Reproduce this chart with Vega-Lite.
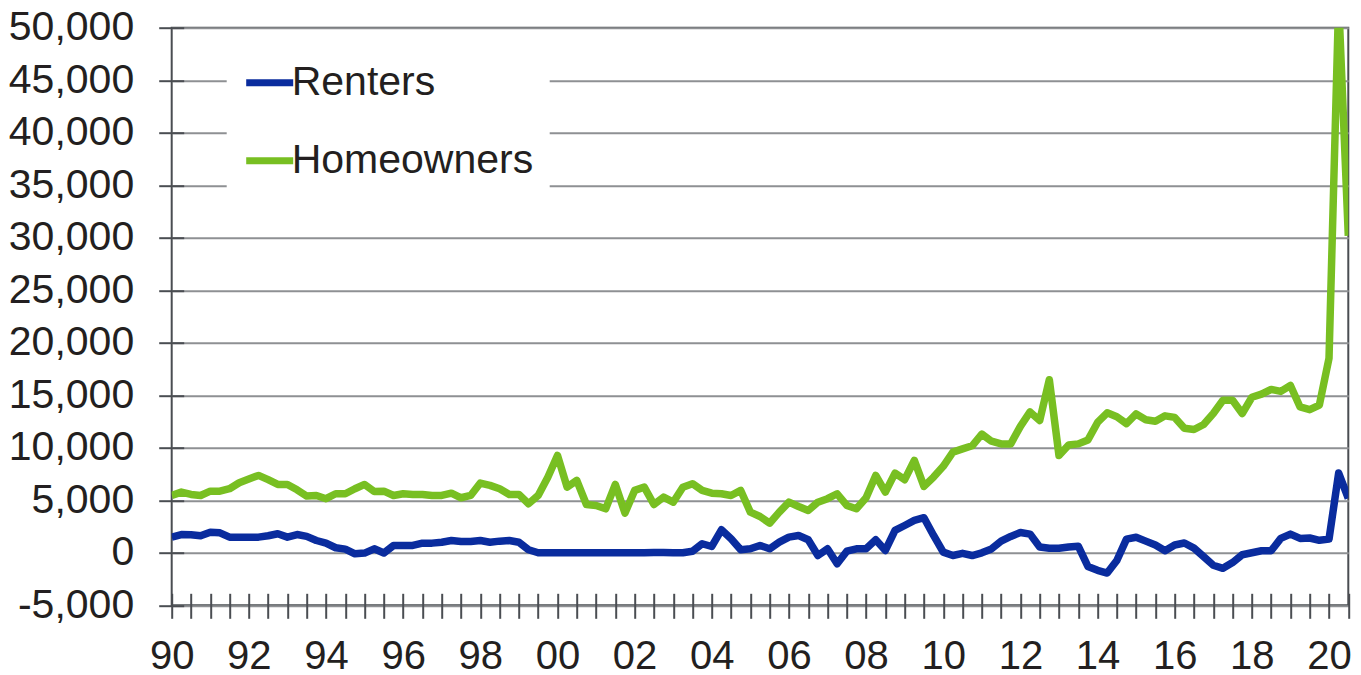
{
  "$schema": "https://vega.github.io/schema/vega-lite/v6.json",
  "width": 1176.6,
  "height": 577.6,
  "autosize": {"type": "none"},
  "padding": {"left": 171.7, "top": 27.7, "right": 12.7, "bottom": 69.7},
  "background": "white",
  "config": {
    "view": {"stroke": "#4a4d52", "strokeWidth": 2},
    "font": "Liberation Sans"
  },
  "data": {"values": [
    {"t":1990.00,"Renters":1490,"Homeowners":5460},
    {"t":1990.25,"Renters":1740,"Homeowners":5780},
    {"t":1990.50,"Renters":1720,"Homeowners":5560},
    {"t":1990.75,"Renters":1620,"Homeowners":5460},
    {"t":1991.00,"Renters":1960,"Homeowners":5870},
    {"t":1991.25,"Renters":1900,"Homeowners":5870},
    {"t":1991.50,"Renters":1490,"Homeowners":6100},
    {"t":1991.75,"Renters":1490,"Homeowners":6670},
    {"t":1992.00,"Renters":1490,"Homeowners":7020},
    {"t":1992.25,"Renters":1490,"Homeowners":7370},
    {"t":1992.50,"Renters":1620,"Homeowners":6960},
    {"t":1992.75,"Renters":1810,"Homeowners":6510},
    {"t":1993.00,"Renters":1490,"Homeowners":6510},
    {"t":1993.25,"Renters":1740,"Homeowners":6000},
    {"t":1993.50,"Renters":1560,"Homeowners":5400},
    {"t":1993.75,"Renters":1170,"Homeowners":5460},
    {"t":1994.00,"Renters":920,"Homeowners":5150},
    {"t":1994.25,"Renters":480,"Homeowners":5620},
    {"t":1994.50,"Renters":350,"Homeowners":5620},
    {"t":1994.75,"Renters":-100,"Homeowners":6100},
    {"t":1995.00,"Renters":-30,"Homeowners":6510},
    {"t":1995.25,"Renters":380,"Homeowners":5840},
    {"t":1995.50,"Renters":-20,"Homeowners":5870},
    {"t":1995.75,"Renters":700,"Homeowners":5460},
    {"t":1996.00,"Renters":700,"Homeowners":5620},
    {"t":1996.25,"Renters":700,"Homeowners":5560},
    {"t":1996.50,"Renters":920,"Homeowners":5560},
    {"t":1996.75,"Renters":920,"Homeowners":5460},
    {"t":1997.00,"Renters":1010,"Homeowners":5460},
    {"t":1997.25,"Renters":1170,"Homeowners":5680},
    {"t":1997.50,"Renters":1080,"Homeowners":5240},
    {"t":1997.75,"Renters":1080,"Homeowners":5460},
    {"t":1998.00,"Renters":1170,"Homeowners":6640},
    {"t":1998.25,"Renters":1010,"Homeowners":6420},
    {"t":1998.50,"Renters":1110,"Homeowners":6100},
    {"t":1998.75,"Renters":1170,"Homeowners":5560},
    {"t":1999.00,"Renters":1010,"Homeowners":5560},
    {"t":1999.25,"Renters":290,"Homeowners":4670},
    {"t":1999.50,"Renters":0,"Homeowners":5460},
    {"t":1999.75,"Renters":0,"Homeowners":7200},
    {"t":2000.00,"Renters":0,"Homeowners":9270},
    {"t":2000.25,"Renters":0,"Homeowners":6260},
    {"t":2000.50,"Renters":0,"Homeowners":6890},
    {"t":2000.75,"Renters":0,"Homeowners":4600},
    {"t":2001.00,"Renters":0,"Homeowners":4510},
    {"t":2001.25,"Renters":0,"Homeowners":4190},
    {"t":2001.50,"Renters":0,"Homeowners":6510},
    {"t":2001.75,"Renters":10,"Homeowners":3780},
    {"t":2002.00,"Renters":10,"Homeowners":5940},
    {"t":2002.25,"Renters":10,"Homeowners":6250},
    {"t":2002.50,"Renters":20,"Homeowners":4600},
    {"t":2002.75,"Renters":20,"Homeowners":5300},
    {"t":2003.00,"Renters":10,"Homeowners":4820},
    {"t":2003.25,"Renters":10,"Homeowners":6250},
    {"t":2003.50,"Renters":150,"Homeowners":6580},
    {"t":2003.75,"Renters":860,"Homeowners":5940},
    {"t":2004.00,"Renters":600,"Homeowners":5680},
    {"t":2004.25,"Renters":2190,"Homeowners":5620},
    {"t":2004.50,"Renters":1330,"Homeowners":5460},
    {"t":2004.75,"Renters":290,"Homeowners":5940},
    {"t":2005.00,"Renters":380,"Homeowners":3870},
    {"t":2005.25,"Renters":700,"Homeowners":3460},
    {"t":2005.50,"Renters":380,"Homeowners":2820},
    {"t":2005.75,"Renters":1010,"Homeowners":3870},
    {"t":2006.00,"Renters":1490,"Homeowners":4820},
    {"t":2006.25,"Renters":1650,"Homeowners":4410},
    {"t":2006.50,"Renters":1240,"Homeowners":4030},
    {"t":2006.75,"Renters":-260,"Homeowners":4820},
    {"t":2007.00,"Renters":380,"Homeowners":5150},
    {"t":2007.25,"Renters":-1050,"Homeowners":5620},
    {"t":2007.50,"Renters":150,"Homeowners":4510},
    {"t":2007.75,"Renters":380,"Homeowners":4190},
    {"t":2008.00,"Renters":380,"Homeowners":5240},
    {"t":2008.25,"Renters":1240,"Homeowners":7370},
    {"t":2008.50,"Renters":220,"Homeowners":5780},
    {"t":2008.75,"Renters":2130,"Homeowners":7590},
    {"t":2009.00,"Renters":2600,"Homeowners":6960},
    {"t":2009.25,"Renters":3080,"Homeowners":8800},
    {"t":2009.50,"Renters":3340,"Homeowners":6320},
    {"t":2009.75,"Renters":1650,"Homeowners":7210},
    {"t":2010.00,"Renters":60,"Homeowners":8230},
    {"t":2010.25,"Renters":-260,"Homeowners":9590},
    {"t":2010.50,"Renters":-50,"Homeowners":9900},
    {"t":2010.75,"Renters":-260,"Homeowners":10190},
    {"t":2011.00,"Renters":0,"Homeowners":11300},
    {"t":2011.25,"Renters":370,"Homeowners":10630},
    {"t":2011.50,"Renters":1110,"Homeowners":10370},
    {"t":2011.75,"Renters":1560,"Homeowners":10370},
    {"t":2012.00,"Renters":1930,"Homeowners":12040},
    {"t":2012.25,"Renters":1780,"Homeowners":13410},
    {"t":2012.50,"Renters":560,"Homeowners":12590},
    {"t":2012.75,"Renters":440,"Homeowners":16480},
    {"t":2013.00,"Renters":440,"Homeowners":9260},
    {"t":2013.25,"Renters":560,"Homeowners":10260},
    {"t":2013.50,"Renters":630,"Homeowners":10370},
    {"t":2013.75,"Renters":-1300,"Homeowners":10740},
    {"t":2014.00,"Renters":-1670,"Homeowners":12410},
    {"t":2014.25,"Renters":-1930,"Homeowners":13330},
    {"t":2014.50,"Renters":-740,"Homeowners":12960},
    {"t":2014.75,"Renters":1300,"Homeowners":12300},
    {"t":2015.00,"Renters":1480,"Homeowners":13220},
    {"t":2015.25,"Renters":1110,"Homeowners":12670},
    {"t":2015.50,"Renters":740,"Homeowners":12520},
    {"t":2015.75,"Renters":190,"Homeowners":13040},
    {"t":2016.00,"Renters":740,"Homeowners":12890},
    {"t":2016.25,"Renters":930,"Homeowners":11850},
    {"t":2016.50,"Renters":440,"Homeowners":11740},
    {"t":2016.75,"Renters":-370,"Homeowners":12220},
    {"t":2017.00,"Renters":-1190,"Homeowners":13260},
    {"t":2017.25,"Renters":-1480,"Homeowners":14520},
    {"t":2017.50,"Renters":-930,"Homeowners":14520},
    {"t":2017.75,"Renters":-190,"Homeowners":13260},
    {"t":2018.00,"Renters":0,"Homeowners":14810},
    {"t":2018.25,"Renters":190,"Homeowners":15110},
    {"t":2018.50,"Renters":190,"Homeowners":15560},
    {"t":2018.75,"Renters":1370,"Homeowners":15370},
    {"t":2019.00,"Renters":1780,"Homeowners":15930},
    {"t":2019.25,"Renters":1370,"Homeowners":13890},
    {"t":2019.50,"Renters":1410,"Homeowners":13630},
    {"t":2019.75,"Renters":1190,"Homeowners":14070},
    {"t":2020.00,"Renters":1300,"Homeowners":18520},
    {"t":2020.25,"Renters":7590,"Homeowners":52500},
    {"t":2020.50,"Renters":5190,"Homeowners":30190}
  ]},
  "transform": [{"fold": ["Renters", "Homeowners"], "as": ["series", "value"]}],
  "mark": {"type": "line", "strokeWidth": 7.5, "strokeJoin": "round", "strokeCap": "butt", "clip": true},
  "encoding": {
    "x": {
      "field": "t",
      "type": "quantitative",
      "scale": {"domain": [1990, 2020.5], "nice": false, "zero": false},
      "axis": {
        "title": null,
        "values": [1990,1990.5,1991,1991.5,1992,1992.5,1993,1993.5,1994,1994.5,1995,1995.5,1996,1996.5,1997,1997.5,1998,1998.5,1999,1999.5,2000,2000.5,2001,2001.5,2002,2002.5,2003,2003.5,2004,2004.5,2005,2005.5,2006,2006.5,2007,2007.5,2008,2008.5,2009,2009.5,2010,2010.5,2011,2011.5,2012,2012.5,2013,2013.5,2014,2014.5,2015,2015.5,2016,2016.5,2017,2017.5,2018,2018.5,2019,2019.5,2020,2020.5],
        "labelExpr": "datum.value % 2 === 0 ? slice(format(datum.value, 'd'), 2) : ''",
        "labelOverlap": false,
        "labelFlush": false,
        "domain": false,
        "grid": false,
        "ticks": true,
        "tickSize": 25,
        "tickWidth": 2,
        "tickColor": "#4a4d52",
        "offset": -12,
        "labelFontSize": 40,
        "labelColor": "#231f20",
        "labelPadding": 18
      }
    },
    "y": {
      "field": "value",
      "type": "quantitative",
      "scale": {"domain": [-5000, 50000], "nice": false, "zero": false},
      "axis": {
        "title": null,
        "values": [-5000,0,5000,10000,15000,20000,25000,30000,35000,40000,45000,50000],
        "labelExpr": "replace(format(datum.value, ',d'), '\u2212', '-')",
        "labelOverlap": false,
        "labelFlush": false,
        "domain": false,
        "grid": true,
        "gridColor": "#8e9093",
        "gridWidth": 2,
        "ticks": true,
        "tickSize": 25,
        "tickWidth": 2,
        "tickColor": "#4a4d52",
        "offset": -12,
        "labelFontSize": 41,
        "labelColor": "#231f20",
        "labelPadding": 25
      }
    },
    "color": {
      "field": "series",
      "type": "nominal",
      "scale": {"domain": ["Renters", "Homeowners"], "range": ["#0a2c9e", "#78bf22"]},
      "legend": {
        "title": null,
        "orient": "none",
        "legendX": 55,
        "legendY": 12,
        "symbolType": "stroke",
        "symbolSize": 2209,
        "symbolStrokeWidth": 7,
        "labelFontSize": 41,
        "labelColor": "#231f20",
        "labelOffset": -5,
        "labelLimit": 0,
        "fillColor": "white",
        "padding": 16,
        "rowPadding": 31
      }
    }
  }
}
